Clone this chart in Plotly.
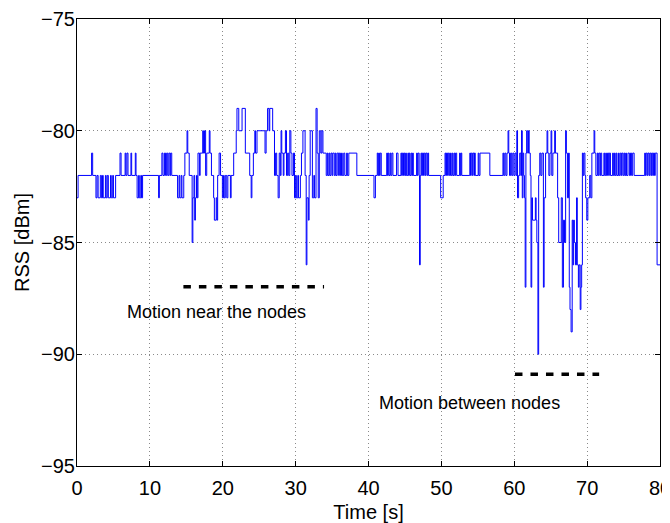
import plotly.graph_objects as go

# [time (s), RSS (dBm)] at each level change of the received signal strength trace
quiet_start = [
    [0, -83], [0.15, -82], [2.0, -81], [2.15, -82], [2.6, -83], [2.75, -82], [2.9, -83], [3.2, -82],
    [3.35, -83], [3.5, -82], [3.6, -83], [3.9, -82], [4.0, -83], [4.15, -82], [4.3, -83], [4.6, -82],
    [4.7, -83], [4.9, -82], [5.0, -83], [5.3, -82], [5.9, -81], [6.05, -82], [6.6, -81], [6.7, -82],
    [6.85, -81], [7.0, -82], [7.4, -81], [7.5, -82], [8.0, -81], [8.1, -82], [8.25, -83], [8.45, -82],
    [8.55, -83], [8.75, -82], [8.85, -83], [9.0, -82], [11.2, -83], [11.3, -82], [11.65, -81], [11.8, -82],
    [12.0, -81], [12.15, -82], [12.3, -81], [12.45, -82], [12.6, -81], [12.75, -82], [12.85, -81], [13.0, -82],
    [13.8, -83], [14.0, -82], [14.1, -83], [14.3, -82], [14.4, -83], [14.65, -82],
]

near_motion = [
    [14.8, -81], [15.1, -80], [15.2, -81], [15.4, -82], [15.8, -85], [15.9, -83], [16.05, -82], [16.15, -84],
    [16.25, -83], [16.4, -82], [16.5, -83], [16.6, -81], [16.8, -82], [16.9, -81], [17.25, -80], [17.35, -81],
    [17.5, -80], [17.65, -82], [17.8, -81], [18.15, -80], [18.25, -81], [18.45, -82], [18.75, -83], [18.85, -84],
    [19.1, -83], [19.2, -84], [19.3, -82], [19.5, -81], [19.7, -82], [19.95, -83], [20.1, -82], [20.2, -83],
    [20.35, -82], [20.55, -83], [20.7, -82], [21.05, -83], [21.15, -82], [21.5, -81], [21.85, -80], [21.95, -79],
    [22.2, -80], [22.65, -79], [23.1, -81], [23.7, -82], [23.9, -83], [24.0, -82], [24.2, -81], [24.4, -80],
    [24.5, -81], [24.7, -80], [25.8, -81], [25.95, -80], [26.15, -79], [26.35, -80], [26.45, -79], [26.85, -80],
    [27.1, -82], [27.25, -81], [27.4, -82], [27.6, -83], [27.75, -81], [27.9, -82], [28.0, -80], [28.1, -81],
    [28.3, -82], [28.4, -81], [28.6, -80], [28.75, -82], [28.9, -81], [29.05, -82], [29.2, -80], [29.35, -81],
    [29.5, -82], [29.7, -81], [29.85, -83], [30.0, -82], [30.1, -83], [30.3, -82], [30.4, -83], [30.65, -82],
    [30.8, -81], [31.0, -80], [31.3, -82], [31.45, -86], [31.55, -83], [31.75, -84], [31.85, -82], [32.0, -80],
    [32.3, -83], [32.5, -82], [32.6, -83], [32.8, -79], [32.95, -81], [33.1, -83], [33.25, -80], [33.45, -81],
    [33.6, -80], [33.75, -81],
]

quiet_mid = [
    [34.2, -82], [34.35, -81], [34.45, -82], [34.6, -81], [34.7, -82], [34.85, -81], [35.0, -82], [35.1, -81],
    [35.3, -82], [35.45, -81], [35.55, -82], [35.7, -81], [35.9, -82], [36.0, -81], [36.15, -82], [36.3, -81],
    [36.4, -82], [36.6, -81], [36.75, -82], [37.0, -81], [37.1, -82], [37.3, -81], [38.4, -82], [40.75, -83],
    [40.95, -82], [41.2, -81], [41.3, -82], [41.4, -81], [41.5, -82], [41.6, -81], [41.75, -82], [42.5, -81],
    [42.6, -82], [42.7, -81], [42.8, -82], [42.95, -81], [43.05, -82], [43.2, -81], [43.35, -82], [43.85, -81],
    [44.05, -82], [44.45, -81], [44.55, -82], [44.65, -81], [44.8, -82], [44.9, -81], [45.0, -82], [45.1, -81],
    [45.2, -82], [45.4, -81], [45.5, -82], [45.6, -81], [45.7, -82], [45.85, -81], [45.95, -82], [46.05, -81],
    [46.15, -82], [46.6, -81], [46.7, -82], [46.8, -81], [46.95, -82], [47.0, -86], [47.1, -82], [47.2, -81],
    [47.3, -82], [47.4, -81], [47.55, -82], [47.65, -81], [47.8, -82], [47.9, -81], [48.05, -82], [48.15, -81],
    [48.25, -82], [49.9, -83], [50.25, -82], [50.5, -81], [50.6, -82], [50.7, -81], [50.85, -82], [50.95, -81],
    [51.1, -82], [51.25, -81], [51.35, -82], [51.5, -81], [51.6, -82], [51.75, -81], [51.85, -82], [51.95, -81],
    [52.1, -82], [52.5, -81], [52.6, -82], [52.7, -81], [52.8, -82], [53.9, -81], [54.0, -82], [54.1, -81],
    [54.25, -82], [54.35, -81], [54.5, -82], [54.55, -81], [54.65, -82], [55.05, -81], [55.15, -82],
]

between_motion = [
    [55.3, -81], [56.65, -82], [58.45, -81], [58.55, -82], [58.7, -81], [58.85, -82], [59.0, -81], [59.15, -80],
    [59.25, -81], [59.35, -82], [59.5, -81], [59.65, -82], [59.8, -81], [59.95, -82], [60.1, -81], [60.25, -82],
    [60.35, -80], [60.45, -83], [60.6, -82], [60.75, -81], [60.9, -82], [61.0, -80], [61.1, -83], [61.2, -81],
    [61.3, -82], [61.4, -83], [61.5, -87], [61.6, -81], [61.7, -80], [61.85, -81], [61.95, -80], [62.05, -81],
    [62.2, -82], [62.3, -87], [62.4, -83], [62.5, -84], [62.9, -83], [63.0, -84], [63.1, -85], [63.25, -90],
    [63.35, -82], [63.5, -81], [63.65, -82], [63.8, -81], [64.0, -87], [64.1, -83], [64.3, -81], [64.5, -80],
    [64.6, -81], [64.75, -82], [64.9, -81], [65.05, -80], [65.15, -82], [65.3, -81], [65.55, -80], [65.65, -81],
    [65.95, -83], [66.1, -85], [66.45, -83], [66.6, -87], [66.75, -84], [66.9, -85], [67.05, -80], [67.15, -81],
    [67.3, -83], [67.45, -81], [67.55, -87], [67.65, -88], [67.8, -89], [67.95, -84], [68.05, -86], [68.15, -84],
    [68.25, -85], [68.4, -86], [68.55, -83], [68.65, -86], [68.8, -87], [68.9, -86], [69.05, -88], [69.15, -87],
    [69.25, -86], [69.35, -81], [69.45, -82], [69.55, -81], [69.7, -82], [69.8, -83], [69.95, -84], [70.1, -83],
    [70.35, -82], [70.5, -83], [70.65, -81], [70.95, -80], [71.05, -81],
]

quiet_end = [
    [71.2, -82], [71.4, -81], [71.5, -82], [71.6, -81], [71.75, -82], [71.85, -81], [72.0, -82], [72.3, -81],
    [72.4, -82], [72.55, -81], [72.65, -82], [72.8, -81], [72.95, -82], [73.05, -81], [73.2, -82], [73.5, -81],
    [73.6, -82], [73.75, -81], [73.85, -82], [74.0, -81], [74.1, -82], [74.3, -81], [74.4, -82], [74.55, -81],
    [74.7, -82], [74.8, -81], [74.95, -82], [75.1, -81], [75.2, -82], [75.3, -81], [75.4, -82], [75.6, -81],
    [75.8, -82], [75.95, -81], [76.1, -82], [76.25, -81], [76.45, -82], [77.9, -81], [78.0, -82], [78.1, -81],
    [78.25, -82], [78.35, -81], [78.5, -82], [78.6, -81], [78.75, -82], [78.85, -81], [79.0, -82], [79.1, -81],
    [79.25, -82], [79.35, -81], [79.6, -86], [80.0, -86],
]

# annotation markers: dashed bars and labels
bar_near_x = [14.6, 33.9]
bar_near_y = [-86.98, -86.98]
bar_between_x = [60.1, 71.65]
bar_between_y = [-90.89, -90.89]
label_near = "Motion near the nodes"
label_near_pos = (6.6, -88.1)
label_between = "Motion between nodes"
label_between_pos = (41.1, -92.2)

x_ticks = [0, 10, 20, 30, 40, 50, 60, 70, 80]
y_ticks = [-95, -90, -85, -80, -75]

trace = quiet_start + near_motion + quiet_mid + between_motion + quiet_end
time_s = [p[0] for p in trace]
rss_dbm = [p[1] for p in trace]

FONT = "Liberation Sans, Arial, Helvetica, sans-serif"

fig = go.Figure()
fig.add_trace(go.Scatter(x=time_s, y=rss_dbm, mode="lines", line=dict(color="#0000ff", width=1, shape="hv"),
                         showlegend=False, hoverinfo="skip"))
fig.add_trace(go.Scatter(x=bar_near_x, y=bar_near_y, mode="lines",
                         line=dict(color="black", width=3.5, dash="7.5px,8px"), showlegend=False))
fig.add_trace(go.Scatter(x=bar_between_x, y=bar_between_y, mode="lines",
                         line=dict(color="black", width=3.5, dash="7.5px,8px"), showlegend=False))

fig.add_annotation(x=label_near_pos[0], y=label_near_pos[1], text=label_near, showarrow=False,
                   xanchor="left", yanchor="middle", font=dict(family=FONT, size=18, color="black"))
fig.add_annotation(x=label_between_pos[0], y=label_between_pos[1], text=label_between, showarrow=False,
                   xanchor="left", yanchor="middle", font=dict(family=FONT, size=18, color="black"))

axis_common = dict(showline=True, linecolor="black", linewidth=1, mirror="allticks", ticks="inside",
                   ticklen=5, tickcolor="black", showgrid=True, gridcolor="#8a8a8a", griddash="1px,3px",
                   gridwidth=1, zeroline=False, automargin=False, ticklabeloverflow="allow",
                   tickfont=dict(family=FONT, size=20, color="black"))

fig.update_xaxes(range=[0, 80], tickvals=x_ticks, ticklabelstandoff=4, **axis_common,
                 title=dict(text="Time [s]", font=dict(family=FONT, size=20, color="black"), standoff=10))
fig.update_yaxes(range=[-95, -75], tickvals=y_ticks, ticklabelstandoff=-3, **axis_common,
                 title=dict(text="RSS [dBm]", font=dict(family=FONT, size=20, color="black"), standoff=6))

# the page body adds an 8 px offset, so the figure is sized/margined to land the axes where the reference has them
fig.update_layout(width=662, height=515, margin=dict(l=69, r=10, t=11, b=57),
                  plot_bgcolor="white", paper_bgcolor="white")

fig.write_html("out.html")
